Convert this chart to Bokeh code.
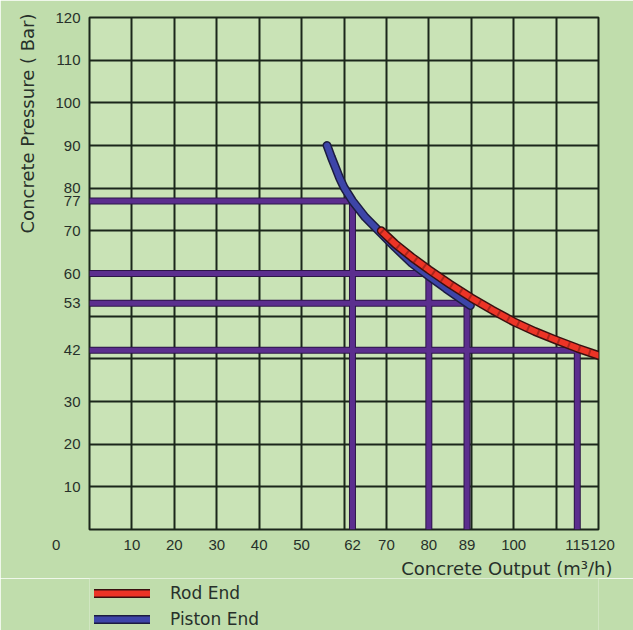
from bokeh.plotting import figure
from bokeh.layouts import column
from bokeh.models import FixedTicker, Legend, LegendItem, Range1d, Title
from bokeh.embed import file_html
from bokeh.resources import INLINE

# ---- data ----
x_ticks = [0, 10, 20, 30, 40, 50, 62, 70, 80, 89, 100, 115, 120]
y_ticks = [10, 20, 30, 42, 53, 60, 70, 77, 80, 90, 100, 110, 120]
grid_vals = [0, 10, 20, 30, 40, 50, 60, 70, 80, 90, 100, 110, 120]

piston_x = [56, 57, 58, 59, 60, 62, 65, 68.2, 72, 76, 80, 84, 89.8]
piston_y = [90, 87.3, 84.8, 82.3, 80.2, 77, 73.2, 70, 66.2, 62.4, 59.4, 56.5, 52.5]

rod_x = [68.8, 72, 76, 80, 85, 90, 95, 100, 105, 110, 115, 120]
rod_y = [70.0, 67.0, 63.8, 60.9, 57.5, 54.3, 51.4, 48.7, 46.4, 44.4, 42.5, 40.8]

ref_x = [62, 80, 89, 115]
ref_y = [77, 60, 53, 42]

series_names = ["Rod End", "Piston End"]

BG = "#c9e3b6"
BORDER = "#c0ddac"
TXT = "#27302a"
TICK_FONT = "Liberation Sans"
LBL_FONT = "DejaVu Sans"

ROD = dict(edge="#3a1010", fill="#ec3426")
PIS = dict(edge="#1c1c40", fill="#3d45a8")

p = figure(width=633, height=578, output_backend="svg", toolbar_location=None,
           x_range=Range1d(0, 120), y_range=Range1d(0, 120),
           min_border_left=89, min_border_right=35, min_border_top=17,
           min_border_bottom=47)
p.background_fill_color = BG
p.border_fill_color = BORDER
p.outline_line_color = "#1b261b"
p.outline_line_width = 2

for g in (p.xgrid, p.ygrid):
    g.ticker = FixedTicker(ticks=grid_vals)
    g.grid_line_color = "#1b261b"
    g.grid_line_width = 2
    g.grid_line_alpha = 1.0

for ax, ticks in [(p.xaxis, x_ticks), (p.yaxis, y_ticks)]:
    ax.ticker = FixedTicker(ticks=ticks)
    ax.axis_line_color = None
    ax.major_tick_line_color = None
    ax.minor_tick_line_color = None
    ax.major_tick_out = 0
    ax.major_tick_in = 0
    ax.minor_tick_out = 0
    ax.major_label_text_font = TICK_FONT
    ax.major_label_text_font_size = "15px"
    ax.major_label_text_color = TXT
p.xaxis.major_label_standoff = 6
p.yaxis.major_label_standoff = 9
# the corner "0" sits left of the origin; figure spaces push it there
p.xaxis.major_label_overrides = {0: "0" + "\u2007" * 8, 120: "\u2002120"}

# reference (purple) lines
x0 = [0] * len(ref_x)
p.segment(x0=x0, y0=ref_y, x1=ref_x, y1=ref_y, line_color="#2c1648", line_width=7)
p.segment(x0=ref_x, y0=ref_y, x1=ref_x, y1=x0, line_color="#2c1648", line_width=7)
p.segment(x0=x0, y0=ref_y, x1=ref_x, y1=ref_y, line_color="#5b2e8e", line_width=5)
p.segment(x0=ref_x, y0=ref_y, x1=ref_x, y1=x0, line_color="#5b2e8e", line_width=5)

# curves
p.line(piston_x, piston_y, line_color=PIS["edge"], line_width=9, line_cap="round", line_join="round")
p.line(piston_x, piston_y, line_color=PIS["fill"], line_width=6, line_cap="round", line_join="round")
p.line(rod_x, rod_y, line_color=ROD["edge"], line_width=9, line_cap="round", line_join="round")
p.line(rod_x, rod_y, line_color=ROD["fill"], line_width=6, line_cap="round", line_join="round")
p.line(rod_x, rod_y, line_color="#7a1a14", line_width=6, line_dash="2 9", line_alpha=0.55)

# axis titles
p.add_layout(Title(text="Concrete Output (m\u00b3/h)", align="right", offset=-14,
                   standoff=0, text_font=LBL_FONT, text_font_size="18px",
                   text_font_style="normal", text_color=TXT), "below")
p.add_layout(Title(text="Concrete Pressure ( Bar)", align="right", offset=-4,
                   standoff=29, text_font=LBL_FONT, text_font_size="18px",
                   text_font_style="normal", text_color=TXT), "left")

# legend strip below the chart
q = figure(width=633, height=52, output_backend="svg", toolbar_location=None,
           x_range=Range1d(0, 1), y_range=Range1d(0, 1),
           x_axis_type=None, y_axis_type=None,
           min_border_left=0, min_border_right=0, min_border_top=0, min_border_bottom=0)
q.background_fill_color = BORDER
q.border_fill_color = BORDER
q.outline_line_color = None
q.xgrid.visible = False
q.ygrid.visible = False
items = []
for name, st in zip(series_names, [ROD, PIS]):
    e = q.line([-5, -4], [-5, -4], line_color=st["edge"], line_width=9, line_cap="round")
    f = q.line([-5, -4], [-5, -4], line_color=st["fill"], line_width=6, line_cap="round")
    items.append(LegendItem(label=name, renderers=[e, f]))
legend = Legend(items=items, location=(5, 1), orientation="vertical",
                padding=0, margin=0, spacing=6,
                glyph_width=56, glyph_height=20, label_height=20,
                label_standoff=20, border_line_color=None,
                background_fill_alpha=0,
                label_text_font=LBL_FONT, label_text_font_size="17px",
                label_text_color=TXT)
q.add_layout(legend, "center")

layout = column(p, q, spacing=0)
html = file_html(layout, INLINE)
html = html.replace("<body>", '<body style="background:%s">' % BORDER, 1)
open("out.html", "w").write(html)
